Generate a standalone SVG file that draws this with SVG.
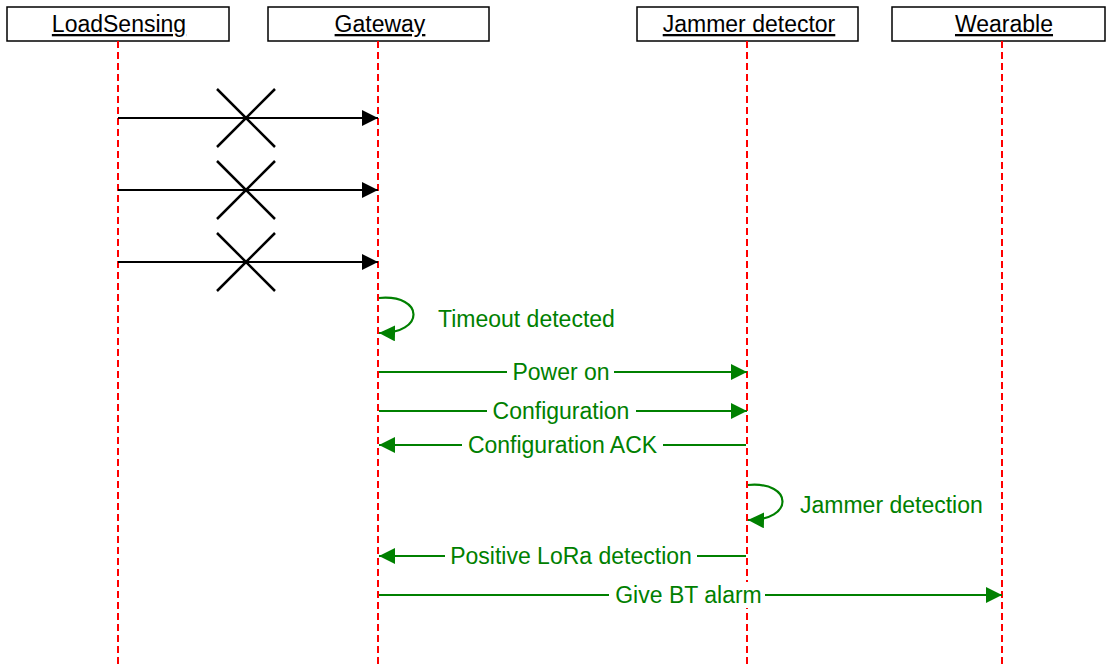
<svg xmlns="http://www.w3.org/2000/svg" width="1106" height="665" viewBox="0 0 1106 665">
<style>
.box{fill:#fff;stroke:#000;stroke-width:1.5}
.hdr{font-family:"Liberation Sans",Arial,sans-serif;font-size:23px;fill:#000;text-anchor:middle;text-decoration:underline}
.life{stroke:#f00;stroke-width:2;stroke-dasharray:7 4;fill:none}
.blk{stroke:#000;stroke-width:2;fill:none}
.x{stroke:#000;stroke-width:2.5;fill:none}
.grn{stroke:#008000;stroke-width:2.2;fill:none}
.lbl{font-family:"Liberation Sans",Arial,sans-serif;font-size:23px;fill:#008000;text-anchor:middle}
.lbs{font-family:"Liberation Sans",Arial,sans-serif;font-size:23px;fill:#008000}
.bg{fill:#fff}
</style>
<defs>
<marker id="ab" markerWidth="16" markerHeight="16" refX="16" refY="8" orient="auto" markerUnits="userSpaceOnUse"><path d="M0,0 L16,8 L0,16 Z" fill="#000"/></marker>
<marker id="ag" markerWidth="16" markerHeight="16" refX="16" refY="8" orient="auto" markerUnits="userSpaceOnUse"><path d="M0,0 L16,8 L0,16 Z" fill="#008000"/></marker>
</defs>
<g id="node-loadsensing"><rect class="box" x="7" y="7" width="222" height="34"/><text class="hdr" x="119" y="32">LoadSensing</text><line class="life" x1="118" y1="41" x2="118" y2="665"/></g>
<g id="node-gateway"><rect class="box" x="268" y="7" width="221" height="34"/><text class="hdr" x="380" y="32">Gateway</text><line class="life" x1="378" y1="41" x2="378" y2="665"/></g>
<g id="node-jammer"><rect class="box" x="637" y="7" width="221" height="34"/><text class="hdr" x="749" y="32">Jammer detector</text><line class="life" x1="747" y1="41" x2="747" y2="665"/></g>
<g id="node-wearable"><rect class="box" x="892" y="7" width="213" height="34"/><text class="hdr" x="1004" y="32">Wearable</text><line class="life" x1="1002" y1="41" x2="1002" y2="665"/></g>
<g id="connectors">
<line class="blk" x1="118" y1="118" x2="378" y2="118" marker-end="url(#ab)"/>
<path class="x" d="M217,89 L275,147 M275,89 L217,147"/>
<line class="blk" x1="118" y1="190" x2="378" y2="190" marker-end="url(#ab)"/>
<path class="x" d="M217,161 L275,219 M275,161 L217,219"/>
<line class="blk" x1="118" y1="262" x2="378" y2="262" marker-end="url(#ab)"/>
<path class="x" d="M217,233 L275,291 M275,233 L217,291"/>
<path class="grn" d="M379,298 C425,294 425,334 379,333" marker-end="url(#ag)"/>
<text class="lbs" x="438" y="327">Timeout detected</text>
<line class="grn" x1="379" y1="372" x2="747" y2="372" marker-end="url(#ag)"/>
<rect class="bg" x="507" y="359" width="107" height="26"/>
<text class="lbl" x="561" y="380">Power on</text>
<line class="grn" x1="379" y1="411" x2="747" y2="411" marker-end="url(#ag)"/>
<rect class="bg" x="487" y="398" width="149" height="26"/>
<text class="lbl" x="561" y="419">Configuration</text>
<line class="grn" x1="746" y1="445" x2="379" y2="445" marker-end="url(#ag)"/>
<rect class="bg" x="462" y="432" width="201" height="26"/>
<text class="lbl" x="562.5" y="453">Configuration ACK</text>
<path class="grn" d="M748,485 C794,481 794,521 748,520" marker-end="url(#ag)"/>
<text class="lbs" x="800" y="513">Jammer detection</text>
<line class="grn" x1="746" y1="556" x2="379" y2="556" marker-end="url(#ag)"/>
<rect class="bg" x="445" y="543" width="252" height="26"/>
<text class="lbl" x="571" y="564">Positive LoRa detection</text>
<line class="grn" x1="379" y1="595" x2="1002" y2="595" marker-end="url(#ag)"/>
<rect class="bg" x="609" y="582" width="156" height="26"/>
<text class="lbl" x="688.5" y="603">Give BT alarm</text>
</g>
</svg>
